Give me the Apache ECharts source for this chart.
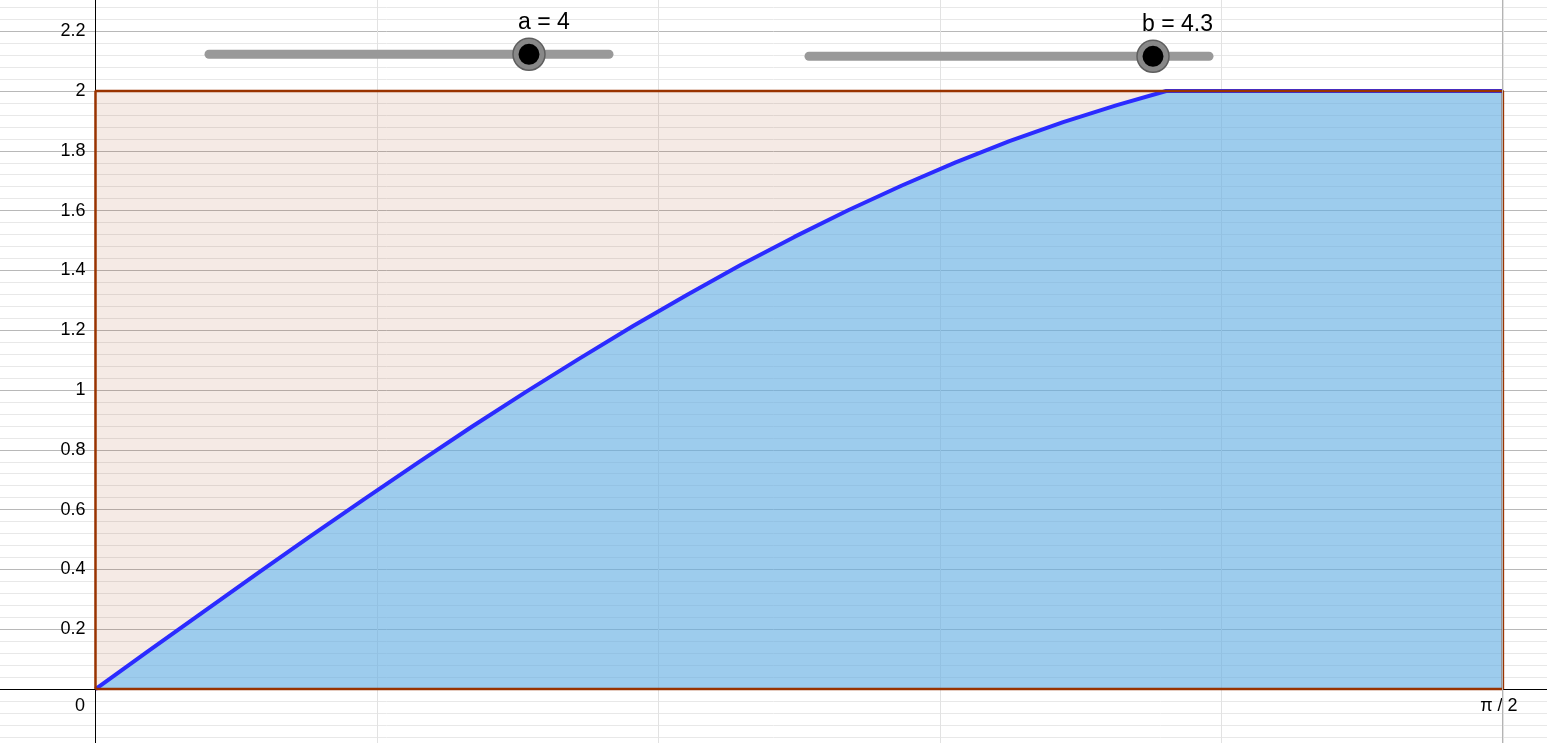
<!DOCTYPE html>
<html><head><meta charset="utf-8">
<script src="https://cdn.jsdelivr.net/npm/echarts@6/dist/echarts.min.js"></script>
<style>html,body{margin:0;padding:0;background:#fff;overflow:hidden}#c{width:1547px;height:743px;}</style>
</head><body><div id="c"></div>
<script>
// ---- data ----
const curveX = [0, 0.06, 0.12, 0.18, 0.24, 0.30, 0.36, 0.42, 0.48, 0.54, 0.60, 0.66, 0.72, 0.78, 0.84, 0.90, 0.96, 1.02, 1.08, 1.14, 1.195, 1.5708];
const curveY = [0, 0.129, 0.257, 0.385, 0.511, 0.635, 0.757, 0.877, 0.993, 1.105, 1.214, 1.318, 1.418, 1.512, 1.601, 1.684, 1.761, 1.832, 1.896, 1.953, 2.000, 2.000];
const rectX = [0, Math.PI / 2];
const rectY = [0, 2];
const sliderNames = ['a', 'b'];
const sliderValues = [4, 4.3];
const sliderRange = [0, 5];
const xTickValues = [0, Math.PI / 2];
const xTickTexts = ['0', 'π / 2'];
const yLabelRange = [0.2, 2.2];

// ---- layout ----
const FONT = "'Liberation Sans', Arial, sans-serif";
const tracks = [[209, 609, 54.3], [809, 1209, 56.3]];
const GRID = {left: -186, right: -237.4, top: -28.6, bottom: -5.8};
const Y_AXIS_SHIFT = -(95.5 - GRID.left);   // move y axis from grid left edge to x = 0
const X_AXIS_SHIFT = -59.8;                 // move x axis from grid bottom edge to y = 0

const curveData = curveX.map((x, i) => [x, curveY[i]]);
const rectFill = [[rectX[0], rectY[1]], [rectX[1], rectY[1]]];
const rectBorder = [[rectX[0], rectY[0]], [rectX[0], rectY[1]], [rectX[1], rectY[1]], [rectX[1], rectY[0]], [rectX[0], rectY[0]]];

const graphics = [];
sliderNames.forEach((n, i) => {
  const [x1, x2, y] = tracks[i];
  const kx = x1 + (x2 - x1) * (sliderValues[i] - sliderRange[0]) / (sliderRange[1] - sliderRange[0]);
  graphics.push({type: 'line', shape: {x1: x1, y1: y, x2: x2, y2: y}, style: {stroke: '#999999', lineWidth: 9, lineCap: 'round'}, z: 100});
  graphics.push({type: 'circle', shape: {cx: kx, cy: y, r: 16}, style: {fill: '#888888', stroke: '#5e5e5e', lineWidth: 1.5}, z: 101});
  graphics.push({type: 'circle', shape: {cx: kx, cy: y, r: 10.5}, style: {fill: '#000000'}, z: 102});
  graphics.push({type: 'text', x: kx - 11, y: y - 32, style: {text: n + ' = ' + sliderValues[i], font: '23px ' + FONT, fill: '#000', align: 'left', verticalAlign: 'middle'}, z: 103});
});

const chart = echarts.init(document.getElementById('c'), null, {renderer: 'canvas'});
chart.setOption({
  animation: false,
  backgroundColor: '#ffffff',
  grid: {left: GRID.left, right: GRID.right, top: GRID.top, bottom: GRID.bottom, containLabel: false, outerBoundsMode: 'none'},
  xAxis: {
    type: 'value', position: 'bottom', offset: X_AXIS_SHIFT,
    min: -Math.PI / 10, max: 6 * Math.PI / 10, interval: Math.PI / 10,
    axisLine: {onZero: false, lineStyle: {color: '#000', width: 1}},
    axisTick: {show: false},
    splitLine: {show: true, lineStyle: {color: '#e2e2e2', width: 1}},
    axisLabel: {
      show: true, margin: 8, color: '#000', fontSize: 18, fontFamily: FONT,
      showMinLabel: true, showMaxLabel: true, hideOverlap: false,
      formatter: function (v) {
        for (let i = 0; i < xTickValues.length; i++) {
          if (Math.abs(v - xTickValues[i]) < 1e-6) return i === 0 ? '{o|' + xTickTexts[i] + '}' : '{p|' + xTickTexts[i] + '}';
        }
        return '';
      },
      rich: {o: {fontSize: 18, fontFamily: FONT, color: '#000', padding: [0, 31, 0, 0]}, p: {fontSize: 18, fontFamily: FONT, color: '#000', padding: [0, 8, 0, 0]}}
    }
  },
  yAxis: {
    type: 'value', position: 'left', offset: Y_AXIS_SHIFT,
    min: -0.2, max: 2.4, interval: 0.2,
    axisLine: {onZero: false, lineStyle: {color: '#000', width: 1}},
    axisTick: {show: false},
    splitLine: {show: true, lineStyle: {color: '#b8b8b8', width: 1}},
    minorTick: {show: false, splitNumber: 5},
    minorSplitLine: {show: true, lineStyle: {color: '#e8e8e8', width: 1}},
    axisLabel: {
      show: true, margin: 10, color: '#000', fontSize: 18, fontFamily: FONT, hideOverlap: false,
      showMinLabel: true, showMaxLabel: true, padding: [3, 0, 0, 0],
      formatter: function (v) {
        if (v < yLabelRange[0] - 1e-6 || v > yLabelRange[1] + 1e-6) return '';
        return String(Math.round(v * 10) / 10);
      }
    }
  },
  series: [
    {
      type: 'line', data: rectFill, symbol: 'none', silent: true,
      lineStyle: {width: 0, opacity: 0},
      areaStyle: {color: 'rgba(153,51,0,0.1)', opacity: 1, origin: 0},
      markLine: {silent: true, symbol: 'none', label: {show: false},
        lineStyle: {color: '#b4b4b4', type: 'solid', width: 1},
        data: [{xAxis: rectX[1]}]}
    },
    {
      type: 'line', data: curveData, symbol: 'none', silent: true,
      lineStyle: {color: '#2b2bff', width: 4},
      areaStyle: {color: 'rgba(98,183,242,0.6)', opacity: 1, origin: 0}
    },
    {
      type: 'line', data: rectBorder, symbol: 'none', silent: true,
      lineStyle: {color: '#993300', width: 2.5}
    }
  ],
  graphic: graphics
});
</script>
</body></html>
